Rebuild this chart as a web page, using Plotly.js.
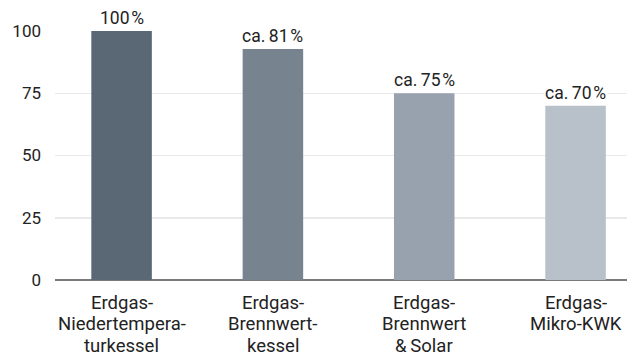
<!DOCTYPE html>
<html>
<head>
<meta charset="utf-8">
<script src="https://cdn.plot.ly/plotly-3.0.1.min.js"></script>
<style>html,body{margin:0;padding:0;background:#fff;}#chart{width:633px;height:356px;}</style>
</head>
<body>
<div id="chart"></div>
<script>
const categories = ["Erdgas-Niedertemperaturkessel", "Erdgas-Brennwertkessel", "Erdgas-Brennwert & Solar", "Erdgas-Mikro-KWK"];
const tickLabels = [
  ["Erdgas-", "Niedertempera-", "turkessel"],
  ["Erdgas-", "Brennwert-", "kessel"],
  ["Erdgas-", "Brennwert", "&\u2009Solar"],
  ["Erdgas-", "Mikro-KWK"]
];
const values = [100, 92.8, 75, 70];
const valueLabels = ["100\u200a%", "ca.\u200981\u200a%", "ca.\u200975\u200a%", "ca.\u200970\u200a%"];
const barColors = ["#5a6875", "#77848f", "#97a2ae", "#b8c0ca"];
const yTicks = [0, 25, 50, 75, 100];

const font = "Roboto, Noto Sans, sans-serif";

const trace = {
  type: "bar",
  x: categories,
  y: values,
  marker: {color: barColors},
  width: 0.4,
  hoverinfo: "none"
};

const annotations = categories.map((c, i) => ({
  x: c, y: values[i], xref: "x", yref: "y",
  text: valueLabels[i], showarrow: false,
  yanchor: "bottom", yshift: 1,
  bgcolor: "#ffffff", borderpad: 1,
  font: {family: font, size: 17.5, color: "#222"}
}));

categories.forEach((c, i) => {
  tickLabels[i].forEach((line, k) => {
    annotations.push({
      x: c, y: 0, xref: "x", yref: "y",
      text: line, showarrow: false,
      yanchor: "middle", yshift: -22.5 - 21.5 * k,
      font: {family: font, size: 18.5, color: "#222"}
    });
  });
});

const layout = {
  width: 633, height: 356,
  margin: {l: 55, r: 6, t: 31, b: 76},
  paper_bgcolor: "#fff", plot_bgcolor: "#fff",
  showlegend: false,
  font: {family: font, size: 17, color: "#222"},
  xaxis: {
    type: "category",
    range: [-0.44, 3.34],
    showgrid: false, zeroline: false,
    showline: false, ticks: "",
    showticklabels: false,
    fixedrange: true
  },
  yaxis: {
    range: [0, 100],
    tickvals: yTicks,
    ticktext: yTicks.map(String),
    showgrid: true, gridcolor: "#e9e9e9", gridwidth: 1.5,
    zeroline: true, zerolinecolor: "#7a7a7a", zerolinewidth: 2,
    showline: false, ticks: "",
    ticklabelstandoff: 13,
    tickfont: {family: font, size: 17, color: "#222"},
    fixedrange: true
  },
  annotations: annotations
};

Plotly.newPlot("chart", [trace], layout, {displayModeBar: false, staticPlot: true});
</script>
</body>
</html>
